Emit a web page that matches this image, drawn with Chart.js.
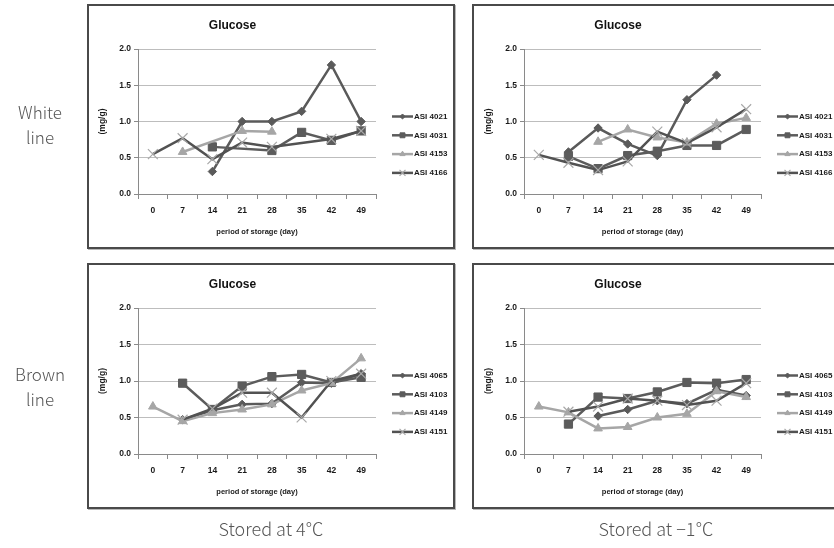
<!DOCTYPE html>
<html>
<head>
<meta charset="utf-8">
<script src="https://cdn.jsdelivr.net/npm/chart.js@4/dist/chart.umd.min.js"></script>
<style>
  html, body { margin: 0; padding: 0; background: #fff; width: 834px; height: 548px; overflow: hidden; }
  .panel { position: absolute; box-sizing: border-box; border: 2px solid #4a4a4a; background: #fff; box-shadow: 1px 1px 0 #b8b8b8; }
  .panel canvas { display: block; }
  .lbl { position: absolute; font-family: "Noto Sans CJK KR", "Open Sans", sans-serif; font-weight: 300; color: #555; text-align: center; will-change: transform; -webkit-font-smoothing: antialiased; }
  .row { left: 0; width: 80px; font-size: 17px; line-height: 25px; }
  .col { width: 368px; font-size: 18px; line-height: 24px; }
</style>
</head>
<body>
<div class="panel" style="left:87px;top:4px;width:368px;height:245px"><canvas id="c1" width="364" height="241"></canvas></div>
<div class="panel" style="left:472px;top:4px;width:368px;height:245px"><canvas id="c2" width="364" height="241"></canvas></div>
<div class="panel" style="left:87px;top:263px;width:368px;height:246px"><canvas id="c3" width="364" height="242"></canvas></div>
<div class="panel" style="left:472px;top:263px;width:368px;height:246px"><canvas id="c4" width="364" height="242"></canvas></div>

<div class="lbl row" style="top:99px">White<br>line</div>
<div class="lbl row" style="top:361px">Brown<br>line</div>
<div class="lbl col" style="left:87px;top:516px">Stored at 4℃</div>
<div class="lbl col" style="left:472px;top:516px">Stored at −1℃</div>

<script>
// Storage days (category axis)
const days = ['0', '7', '14', '21', '28', '35', '42', '49'];
// Glucose axis ticks (mg/g)
const glucoseTicks = [0.0, 0.5, 1.0, 1.5, 2.0];

// Cultivar names
const whiteLines = ['ASI 4021', 'ASI 4031', 'ASI 4153', 'ASI 4166'];
const brownLines = ['ASI 4065', 'ASI 4103', 'ASI 4149', 'ASI 4151'];

// White line, stored at 4 °C
const w4_ASI4021 = [null, null, 0.31, 1.00, 1.00, 1.14, 1.78, 1.00];
const w4_ASI4031 = [null, null, 0.65, null, 0.60, 0.85, 0.74, 0.87];
const w4_ASI4153 = [null, 0.58, null, 0.87, 0.86, null, null, null];
const w4_ASI4166 = [0.55, 0.77, 0.48, 0.71, 0.65, null, 0.76, 0.87];

// White line, stored at -1 °C
const wm1_ASI4021 = [null, 0.58, 0.91, 0.69, 0.53, 1.30, 1.64, null];
const wm1_ASI4031 = [null, 0.52, 0.35, 0.53, 0.59, 0.67, 0.67, 0.89];
const wm1_ASI4153 = [null, null, 0.72, 0.89, 0.78, 0.71, 0.97, 1.05];
const wm1_ASI4166 = [0.54, 0.43, 0.33, 0.45, 0.86, 0.70, 0.92, 1.17];

// Brown line, stored at 4 °C
const b4_ASI4065 = [null, 0.47, 0.60, 0.68, 0.69, 0.98, 0.97, 1.10];
const b4_ASI4103 = [null, 0.97, 0.61, 0.93, 1.06, 1.09, 0.98, 1.05];
const b4_ASI4149 = [0.65, 0.45, 0.56, 0.61, 0.68, 0.87, 0.97, 1.31];
const b4_ASI4151 = [null, 0.47, 0.62, 0.84, 0.84, 0.50, 1.00, 1.10];

// Brown line, stored at -1 °C
const bm1_ASI4065 = [null, null, 0.52, 0.61, 0.73, 0.69, 0.88, 0.80];
const bm1_ASI4103 = [null, 0.41, 0.78, 0.76, 0.85, 0.98, 0.97, 1.02];
const bm1_ASI4149 = [0.65, 0.57, 0.35, 0.37, 0.50, 0.55, 0.86, 0.78];
const bm1_ASI4151 = [null, 0.58, 0.65, 0.76, 0.73, 0.67, 0.73, 0.97];

const FONT = "'Liberation Sans', Arial, sans-serif";
Chart.defaults.font.family = FONT;
Chart.defaults.animation = false;

// Line / marker style for the four series of every panel
const seriesStyles = [
  { borderColor: '#5a5a5a', pointStyle: 'rectRot', pointRadius: 4.2, pointBackgroundColor: '#5a5a5a', pointBorderColor: '#5a5a5a', pointBorderWidth: 1 },
  { borderColor: '#5c5c5c', pointStyle: 'rect', pointRadius: 5.8, pointBackgroundColor: '#5c5c5c', pointBorderColor: '#5c5c5c', pointBorderWidth: 1 },
  { borderColor: '#a6a6a6', pointStyle: 'triangle', pointRadius: 5, pointBackgroundColor: '#a6a6a6', pointBorderColor: '#a6a6a6', pointBorderWidth: 1 },
  { borderColor: '#525252', pointStyle: 'crossRot', pointRadius: 7, pointBackgroundColor: '#a8a8a8', pointBorderColor: '#a8a8a8', pointBorderWidth: 1.2 }
];

// Series key drawn to the right of the plot area: line segment, marker, name
const sideLegend = {
  id: 'sideLegend',
  afterDraw(chart) {
    const { ctx, chartArea } = chart;
    chart.data.datasets.forEach((ds, i) => {
      const y = chartArea.top + 67.5 + 18.8 * i;
      const x0 = chartArea.right + 16;
      ctx.save();
      ctx.strokeStyle = ds.borderColor;
      ctx.lineWidth = ds.borderWidth;
      ctx.beginPath();
      ctx.moveTo(x0, y);
      ctx.lineTo(x0 + 21, y);
      ctx.stroke();
      ctx.fillStyle = ds.pointBackgroundColor;
      ctx.strokeStyle = ds.pointBorderColor;
      ctx.lineWidth = ds.pointBorderWidth;
      Chart.helpers.drawPoint(ctx, { pointStyle: ds.pointStyle, radius: ds.pointRadius * 0.6, rotation: 0, borderWidth: ds.pointBorderWidth }, x0 + 10.5, y);
      ctx.fillStyle = '#1a1a1a';
      ctx.font = 'bold 8px ' + FONT;
      ctx.textBaseline = 'middle';
      ctx.textAlign = 'left';
      ctx.fillText(ds.label, x0 + 22, y);
      ctx.restore();
    });
  }
};

function makeChart(id, names, series, leftPad) {
  const datasets = series.map((data, i) => Object.assign({
    label: names[i],
    data: data,
    borderWidth: 2.5,
    spanGaps: true,
    tension: 0,
    fill: false,
    order: series.length - i
  }, seriesStyles[i]));

  return new Chart(document.getElementById(id), {
    type: 'line',
    data: { labels: days, datasets: datasets },
    plugins: [sideLegend],
    options: {
      responsive: false,
      animation: false,
      layout: { padding: { left: leftPad, right: 77, top: 0, bottom: 0 } },
      plugins: {
        legend: { display: false },
        tooltip: { enabled: false },
        title: {
          display: true, text: 'Glucose', color: '#111',
          font: { size: 12, weight: 'bold', family: FONT },
          padding: { top: 12, bottom: 16.6 }
        }
      },
      scales: {
        x: {
          type: 'category',
          offset: true,
          grid: { offset: true, drawOnChartArea: false, drawTicks: true, tickLength: 5, tickColor: '#8a8a8a' },
          border: { color: '#8a8a8a', width: 1 },
          ticks: { color: '#1a1a1a', font: { size: 8.5, weight: 'bold' }, padding: 7, maxRotation: 0, autoSkip: false },
          title: { display: true, text: 'period of storage (day)', color: '#1a1a1a', font: { size: 7.5, weight: 'bold' }, padding: { top: 0, bottom: 11 } },
          afterFit(s) { s.height = 53; }
        },
        y: {
          min: 0, max: 2,
          afterBuildTicks(s) { s.ticks = glucoseTicks.map(v => ({ value: v })); },
          grid: { color: '#bdbdbd', lineWidth: 1, tickLength: 4, tickColor: '#8a8a8a' },
          border: { color: '#8a8a8a', width: 1 },
          ticks: { color: '#1a1a1a', font: { size: 8.5, weight: 'bold' }, padding: 3, callback: v => Number(v).toFixed(1) },
          title: { display: true, text: '(mg/g)', color: '#1a1a1a', font: { size: 8.5, weight: 'bold' }, padding: { top: 8.5, bottom: 0 } },
          afterFit(s) { s.width = 49; }
        }
      }
    }
  });
}

makeChart('c1', whiteLines, [w4_ASI4021, w4_ASI4031, w4_ASI4153, w4_ASI4166], 0);
makeChart('c2', whiteLines, [wm1_ASI4021, wm1_ASI4031, wm1_ASI4153, wm1_ASI4166], 1);
makeChart('c3', brownLines, [b4_ASI4065, b4_ASI4103, b4_ASI4149, b4_ASI4151], 0);
makeChart('c4', brownLines, [bm1_ASI4065, bm1_ASI4103, bm1_ASI4149, bm1_ASI4151], 1);
</script>
</body>
</html>
